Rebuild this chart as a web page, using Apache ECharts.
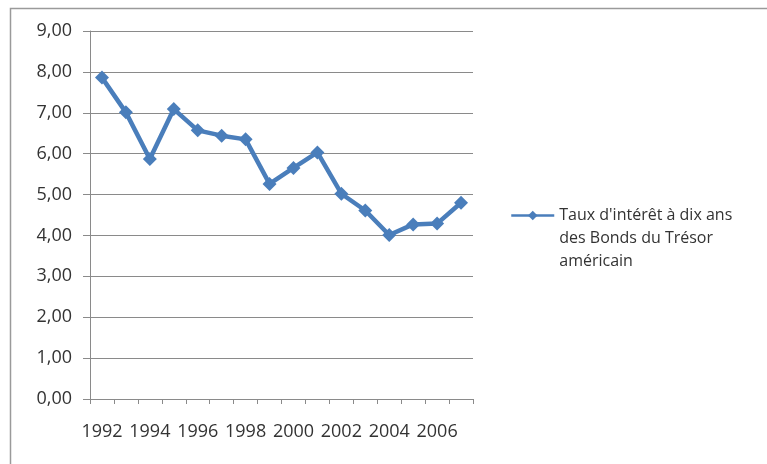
<!DOCTYPE html>
<html>
<head>
<meta charset="utf-8">
<script src="https://cdn.jsdelivr.net/npm/echarts@6/dist/echarts.min.js"></script>
<style>
  html, body { margin: 0; padding: 0; background: #fff; }
  #chart { width: 767px; height: 464px; }
</style>
</head>
<body>
<div id="chart"></div>
<script>
// Years on the category axis
var years = ['1992','1993','1994','1995','1996','1997','1998','1999',
             '2000','2001','2002','2003','2004','2005','2006','2007'];
// Ten-year US Treasury yield (%)
var yields = [7.86, 7.01, 5.87, 7.09, 6.57, 6.44, 6.35, 5.26,
              5.65, 6.03, 5.02, 4.61, 4.01, 4.27, 4.29, 4.80];
var seriesName = "Taux d'intérêt à dix ans\ndes Bonds du Trésor\naméricain";

var FONT = '"Open Sans", sans-serif';
var TEXT = '#333333';
var GRID = '#8a8a8a';
var BLUE = '#4a7ebb';

var chart = echarts.init(document.getElementById('chart'), null, { renderer: 'canvas' });
chart.setOption({
  animation: false,
  backgroundColor: '#ffffff',
  textStyle: { fontFamily: FONT },
  graphic: [{
    type: 'rect',
    shape: { x: 10.5, y: 8.5, width: 800, height: 500 },
    style: { fill: 'none', stroke: '#9a9a9a', lineWidth: 1.5 },
    silent: true
  }],
  grid: { left: 90, top: 31, right: 294, bottom: 65, containLabel: false },
  legend: {
    left: 510, top: 158,
    padding: 0,
    itemWidth: 43, itemHeight: 12,
    itemGap: 0,
    data: [seriesName],
    lineStyle: { width: 2.5 },
    // two leading blank lines keep the marker level with the first text line
    formatter: function (name) { return '\n\n' + name; },
    textStyle: { fontFamily: FONT, fontSize: 16, color: TEXT, lineHeight: 23 }
  },
  xAxis: {
    type: 'category',
    data: years,
    boundaryGap: true,
    axisLine: { lineStyle: { color: GRID, width: 1 } },
    axisTick: { show: true, interval: 0, length: 5, lineStyle: { color: GRID } },
    axisLabel: { interval: 1, margin: 24, fontFamily: FONT, fontSize: 18, color: TEXT }
  },
  yAxis: {
    type: 'value',
    min: 0, max: 9, interval: 1,
    axisLine: { show: true, lineStyle: { color: GRID, width: 1 } },
    axisTick: { show: true, length: 7, lineStyle: { color: GRID } },
    splitLine: { lineStyle: { color: GRID, width: 1 } },
    axisLabel: {
      margin: 18, fontFamily: FONT, fontSize: 18, color: TEXT,
      formatter: function (v) { return v.toFixed(2).replace('.', ','); }
    }
  },
  series: [{
    name: seriesName,
    type: 'line',
    data: yields,
    symbol: 'diamond',
    symbolSize: 14,
    lineStyle: { color: BLUE, width: 4.5 },
    itemStyle: { color: BLUE },
    emphasis: { disabled: true }
  }]
});
</script>
</body>
</html>
